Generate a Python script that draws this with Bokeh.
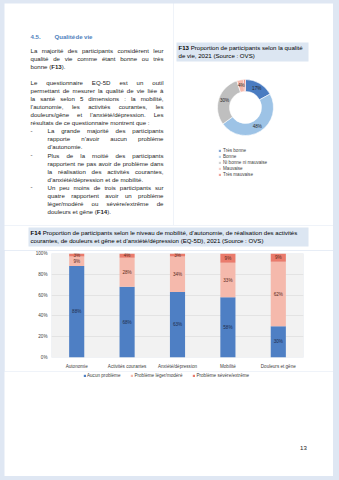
import numpy as np
import pandas as pd
from bokeh.plotting import figure
from bokeh.models import (ColumnDataSource, Range1d, FactorRange, Legend, LegendItem,
                          FixedTicker, Spacer)
from bokeh.layouts import column, row
from bokeh.core.properties import value
from bokeh.embed import file_html
from bokeh.resources import INLINE

# ------------------------------------------------------------------ data
SECTION_NUMBER = "4.5."
SECTION_TITLE = "Qualité de vie"
PARAGRAPH_1 = [
    "La majorité des participants considèrent leur",
    "qualité de vie comme étant bonne ou très",
    "bonne (**F13**).",
]
PARAGRAPH_2 = [
    "Le questionnaire EQ-5D est un outil",
    "permettant de mesurer la qualité de vie liée à",
    "la santé selon 5 dimensions : la mobilité,",
    "l’autonomie, les activités courantes, les",
    "douleurs/gêne et l’anxiété/dépression. Les",
    "résultats de ce questionnaire montrent que :",
]
BULLETS = [
    ["La grande majorité des participants",
     "rapporte n’avoir aucun problème",
     "d’autonomie."],
    ["Plus de la moitié des participants",
     "rapportent ne pas avoir de problème dans",
     "la réalisation des activités courantes,",
     "d’anxiété/dépression et de mobilité."],
    ["Un peu moins de trois participants sur",
     "quatre rapportent avoir un problème",
     "léger/modéré ou sévère/extrême de",
     "douleurs et gêne (**F14**)."],
]

F13_TITLE = ["**F13** Proportion de participants selon la qualité",
             "de vie, 2021 (Source : OVS)"]
QDV_CATEGORIES = ["Très bonne", "Bonne", "Ni bonne ni mauvaise", "Mauvaise", "Très mauvaise"]
QDV_PERCENT = [17, 48, 30, 4, 1]

F14_TITLE = ["**F14** Proportion de participants selon le niveau de mobilité, d’autonomie, de réalisation des activités",
             "courantes, de douleurs et gêne et d’anxiété/dépression (EQ-5D), 2021 (Source : OVS)"]
DIMENSIONS = ["Autonomie", "Activités courantes", "Anxiété/dépression", "Mobilité", "Douleurs et gêne"]
AUCUN = [88, 68, 63, 58, 30]
LEGER = [9, 28, 34, 33, 62]
SEVERE = [3, 4, 3, 9, 9]
SERIES = ["Aucun problème", "Problème léger/modéré", "Problème sévère/extrême"]
Y_TICKS = [0, 20, 40, 60, 80, 100]
Y_TICK_LABELS = ["0%", "20%", "40%", "60%", "80%", "100%"]
PAGE_NUMBER = "13"

# ------------------------------------------------------------------ styles
FONT = "Liberation Sans"
PAGE_BG = "#dfe7f3"
HILITE = "#dce6f2"
TEXT = "#262626"
HEAD_BLUE = "#4f81bd"
QDV_COLORS = ["#4a7cc1", "#9dc3e6", "#bfbfbf", "#f5b9ac", "#ea7b6c"]
BAR_COLORS = ["#4e7fc4", "#f5b9ac", "#ea7b6c"]
BODY = 6.1
SMALL = 4.6

# Arial / Liberation Sans advance widths (1/1000 em)
REG_W = {}
BOLD_W = {}
for c, w in zip("abcdefghijklmnopqrstuvwxyz",
                [556, 556, 500, 556, 556, 278, 556, 556, 222, 222, 500, 222, 833, 556, 556, 556,
                 556, 333, 500, 278, 556, 500, 722, 500, 500, 500]):
    REG_W[c] = w
for c, w in zip("ABCDEFGHIJKLMNOPQRSTUVWXYZ",
                [667, 667, 722, 722, 667, 611, 778, 722, 278, 500, 667, 556, 833, 722, 778, 667,
                 778, 722, 667, 611, 722, 667, 944, 667, 667, 611]):
    REG_W[c] = w
for c, w in zip("abcdefghijklmnopqrstuvwxyz",
                [556, 611, 556, 611, 556, 333, 611, 611, 278, 278, 556, 278, 889, 611, 611, 611,
                 611, 389, 556, 333, 611, 556, 778, 556, 556, 500]):
    BOLD_W[c] = w
for c, w in zip("ABCDEFGHIJKLMNOPQRSTUVWXYZ",
                [722, 722, 722, 722, 667, 611, 778, 722, 278, 556, 722, 611, 833, 722, 778, 667,
                 778, 722, 667, 611, 722, 667, 944, 667, 667, 611]):
    BOLD_W[c] = w
for tbl in (REG_W, BOLD_W):
    for c in "0123456789":
        tbl[c] = 556
    tbl.update({" ": 278, ".": 278, ",": 278, ":": 278, ";": 278, "-": 333, "(": 333,
                ")": 333, "/": 278, "'": 191, "’": 278 if tbl is BOLD_W else 222, "%": 889})
    for c in "àâéèêëôùû":
        tbl[c] = 556
    for c in "îï":
        tbl[c] = 278
REG_W["ç"] = 500
BOLD_W["ç"] = 556


def text_width(s, size, bold=False):
    tbl = BOLD_W if bold else REG_W
    return sum(tbl.get(ch, 556) for ch in s) * size / 1000.0


def word_width(word, size):
    parts = word.split("**")
    return sum(text_width(p, size, k % 2 == 1) for k, p in enumerate(parts))


def place_line(store, line, x0, x1, y, size, justify, color=TEXT, force_bold=False):
    words = line.split(" ")
    widths = [word_width(w, size) for w in words]
    if justify and len(words) > 1:
        gap = (x1 - x0 - sum(widths)) / (len(words) - 1)
    else:
        gap = text_width(" ", size)
    x = x0
    for w, wd in zip(words, widths):
        xx = x
        for k, part in enumerate(w.split("**")):
            if not part:
                continue
            bold = force_bold or (k % 2 == 1)
            store.append(dict(x=xx, y=-y, text=part, bold=bold, color=color))
            xx += text_width(part, size, bold)
        x += wd + gap


def draw_store(p, store, size):
    df = pd.DataFrame(store)
    for bold in (False, True):
        sub = df[df["bold"] == bold]
        if len(sub) == 0:
            continue
        src = ColumnDataSource(dict(x=list(sub["x"]), y=list(sub["y"]),
                                    text=list(sub["text"]), color=list(sub["color"])))
        p.text(x="x", y="y", text="text", text_color="color", source=src,
               text_font=value(FONT), text_font_size=value(f"{size}px"),
               text_font_style="bold" if bold else "normal",
               text_align="left", text_baseline="middle")


def page_fig(x0, x1, y0, y1):
    p = figure(width=int(round(x1 - x0)), height=int(round(y1 - y0)),
               x_range=Range1d(x0, x1), y_range=Range1d(-y1, -y0),
               x_axis_type=None, y_axis_type=None, min_border=0,
               output_backend="svg", toolbar_location=None)
    p.grid.visible = False
    p.outline_line_color = None
    p.background_fill_color = "white"
    p.border_fill_color = "white"
    return p


def style_legend(lg):
    lg.glyph_width = 3
    lg.glyph_height = 3
    lg.label_height = 5
    lg.padding = 0
    lg.margin = 0
    lg.label_text_font = FONT
    lg.label_text_font_size = f"{SMALL}px"
    lg.label_text_color = "#404040"
    lg.background_fill_alpha = 0
    lg.border_line_color = None


# ------------------------------------------------------------------ left text column
lf = page_fig(4, 173, 3, 225)
store = []
LX0, LX1, IND = 30, 163, 47
LEAD = 8.06
place_line(store, SECTION_NUMBER, LX0, LX1, 36, BODY, False, HEAD_BLUE, True)
place_line(store, SECTION_TITLE, 54, LX1, 36, BODY, False, HEAD_BLUE, True)
for i, line in enumerate(PARAGRAPH_1):
    place_line(store, line, LX0, LX1, 50 + i * LEAD, BODY, i < len(PARAGRAPH_1) - 1)
y = 82
for i, line in enumerate(PARAGRAPH_2):
    place_line(store, line, LX0, LX1, y, BODY, i < len(PARAGRAPH_2) - 1)
    y += LEAD
for bullet in BULLETS:
    place_line(store, "-", LX0, LX1, y, BODY, False)
    for i, line in enumerate(bullet):
        place_line(store, line, IND, LX1, y, BODY, i < len(bullet) - 1)
        y += LEAD
draw_store(lf, store, BODY)

# ------------------------------------------------------------------ right column (F13 donut)
rf = page_fig(173, 333, 3, 225)
rf.quad(left=176, right=308, top=-42, bottom=-61, fill_color=HILITE, line_color=None)
store = []
for i, line in enumerate(F13_TITLE):
    place_line(store, line, 178, 308, 47 + i * 8.4, BODY, False, "#000000")
draw_store(rf, store, BODY)

CX, CY = 245, 107
R_IN, R_OUT = 16, 28
vals = np.array(QDV_PERCENT, dtype=float)
frac = vals / vals.sum()
cum = np.cumsum(frac)
start = np.pi / 2 - 2 * np.pi * (cum - frac)
end = np.pi / 2 - 2 * np.pi * cum
donut_src = ColumnDataSource(dict(label=QDV_CATEGORIES, value=QDV_PERCENT, start=start, end=end,
                                  color=QDV_COLORS))
rf.annular_wedge(x=CX, y=-CY, inner_radius=R_IN, outer_radius=R_OUT,
                 inner_radius_units="screen", outer_radius_units="screen",
                 start_angle="start", end_angle="end", direction="clock",
                 fill_color="color", line_color="white", line_width=0.6,
                 legend_field="label", source=donut_src)
mid = (start + end) / 2
rm = (R_IN + R_OUT) / 2
show = vals >= 2
lbl_src = ColumnDataSource(dict(x=list(CX + rm * np.cos(mid[show])),
                                y=list(-CY + rm * np.sin(mid[show])),
                                text=[f"{v}%" for v, s in zip(QDV_PERCENT, show) if s]))
rf.text(x="x", y="y", text="text", source=lbl_src, text_font=value(FONT),
        text_font_size=value(f"{SMALL}px"), text_color="#262626",
        text_align="center", text_baseline="middle")
lg = rf.legend[0]
style_legend(lg)
lg.location = (45, 48)
lg.spacing = 1
lg.label_standoff = 2

# ------------------------------------------------------------------ F14 title strip
tf = page_fig(4, 333, 225, 250)
tf.quad(left=28, right=308, top=-227, bottom=-246, fill_color=HILITE, line_color=None)
store = []
for i, line in enumerate(F14_TITLE):
    place_line(store, line, 30, 308, 232 + i * 8.4, BODY, False, "#000000")
draw_store(tf, store, BODY)

# ------------------------------------------------------------------ bar chart F14
bp = figure(width=329, height=121, x_range=FactorRange(*DIMENSIONS),
            y_range=Range1d(0, 100),
            min_border_left=47, min_border_right=30, min_border_top=3, min_border_bottom=14,
            output_backend="svg", toolbar_location=None)
bar_src = ColumnDataSource(dict(cat=DIMENSIONS, aucun=AUCUN, leger=LEGER, severe=SEVERE))
rends = bp.vbar_stack(["aucun", "leger", "severe"], x="cat", width=0.3, color=BAR_COLORS,
                      line_width=0, source=bar_src)
rows = []
for ci, cat in enumerate(DIMENSIONS):
    base = 0
    for series, col in zip([AUCUN, LEGER, SEVERE], ["#1f2d4d", "#5a2a20", "#5a2a20"]):
        v = series[ci]
        rows.append(dict(cat=cat, y=base + v / 2, text=f"{v}%", color=col))
        base += v
ldf = pd.DataFrame(rows)
bp.text(x="cat", y="y", text="text", text_color="color", source=ColumnDataSource(ldf),
        text_font=value(FONT), text_font_size=value(f"{SMALL}px"),
        text_align="center", text_baseline="middle")
bp.background_fill_color = "#f2f2f2"
bp.border_fill_color = "white"
bp.outline_line_color = None
bp.xgrid.grid_line_color = None
bp.ygrid.grid_line_color = "#d9d9d9"
bp.ygrid.grid_line_width = 0.6
bp.yaxis.ticker = FixedTicker(ticks=Y_TICKS)
bp.yaxis.major_label_overrides = {t: l for t, l in zip(Y_TICKS, Y_TICK_LABELS)}
for ax in (bp.xaxis[0], bp.yaxis[0]):
    ax.axis_line_color = None
    ax.major_tick_line_color = None
    ax.minor_tick_line_color = None
    ax.major_tick_out = 0
    ax.major_tick_in = 0
    ax.minor_tick_out = 0
    ax.major_label_text_font = FONT
    ax.major_label_text_font_size = f"{SMALL}px"
    ax.major_label_text_color = "#404040"
bp.yaxis.major_label_standoff = 4
bp.xaxis.major_label_standoff = 6

# ------------------------------------------------------------------ bottom (bar legend + page number)
bf = page_fig(4, 333, 371, 476)
NAN = [float("nan")]
swatches = [bf.quad(left=NAN, right=NAN, top=NAN, bottom=NAN, fill_color=c, line_color=None)
            for c in BAR_COLORS]
bar_legend = Legend(items=[LegendItem(label=s, renderers=[r]) for s, r in zip(SERIES, swatches)],
                    orientation="horizontal")
style_legend(bar_legend)
bar_legend.spacing = 10
bar_legend.label_standoff = 1
bar_legend.location = (79, 98)
bf.add_layout(bar_legend)
bf.text(x=[303], y=[-447], text=[PAGE_NUMBER], text_font=value(FONT),
        text_font_size=value(f"{BODY}px"), text_color=TEXT,
        text_align="center", text_baseline="middle")

# ------------------------------------------------------------------ page layout
bg = {"background-color": PAGE_BG}
inner = column(row(lf, rf), row(tf), row(bp), row(bf))
page = column(
    Spacer(width=339, height=3, styles=bg),
    row(Spacer(width=4, height=473, styles=bg), inner, Spacer(width=6, height=473, styles=bg)),
    Spacer(width=339, height=4, styles=bg),
    styles=bg,
)

open("out.html", "w").write(file_html(page, INLINE))
